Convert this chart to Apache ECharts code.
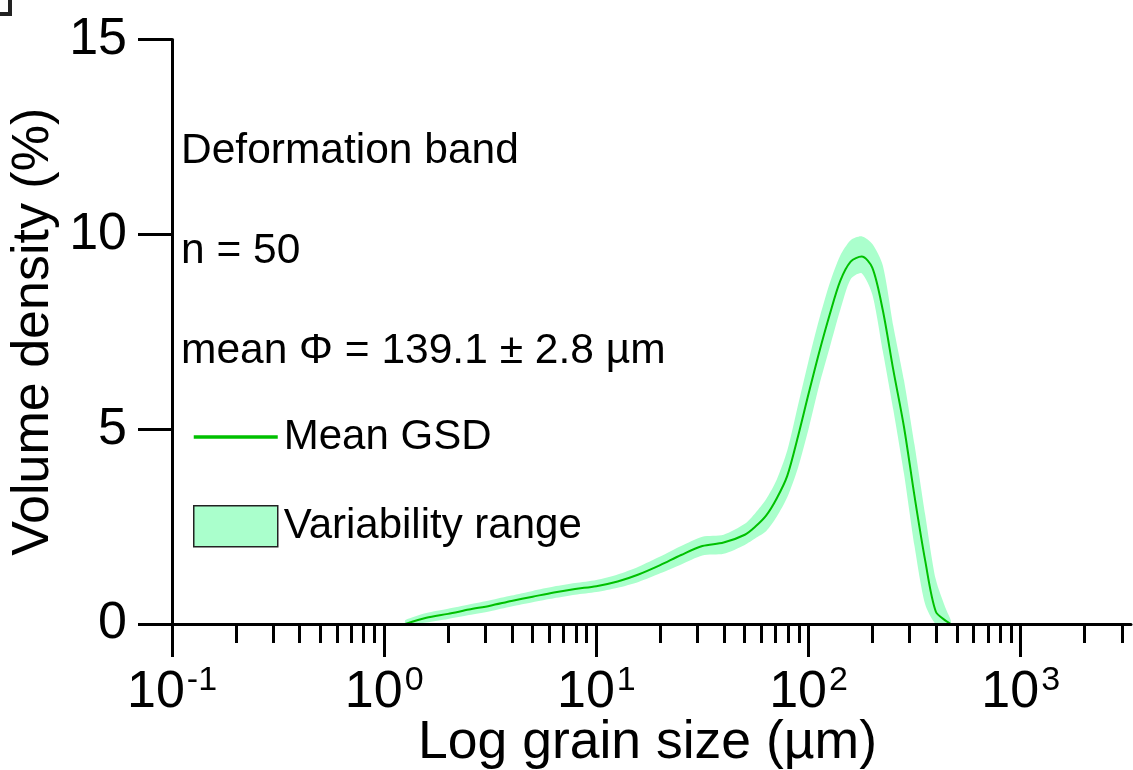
<!DOCTYPE html>
<html>
<head>
<meta charset="utf-8">
<script src="https://cdn.jsdelivr.net/npm/echarts@6/dist/echarts.min.js"></script>
<style>
html,body{margin:0;padding:0;background:#fff;}
#chart{width:1133px;height:770px;}
</style>
</head>
<body>
<div id="chart"></div>
<script>
// Grain sizes (µm)
var sizes = [1.26,1.58,2.00,2.51,3.16,3.98,5.01,6.31,7.94,10.0,12.6,15.8,20.0,25.1,31.6,39.8,50.1,56.2,63.1,70.8,79.4,89.1,100,112,126,141,158,178,200,224,251,282,316,355,398,447,468];
// Mean GSD (volume density %)
var meanGSD = [0.00,0.16,0.26,0.37,0.47,0.59,0.70,0.81,0.90,0.97,1.09,1.27,1.51,1.77,2.00,2.09,2.29,2.50,2.78,3.22,3.80,4.80,5.90,6.95,7.95,8.80,9.30,9.43,9.14,8.05,6.52,5.05,3.28,1.62,0.32,0.07,0.00];
// Variability range: lower and upper envelopes
var lowerGSD = [0.00,0.04,0.13,0.23,0.33,0.45,0.56,0.66,0.75,0.82,0.93,1.08,1.30,1.53,1.76,1.80,2.03,2.20,2.38,2.75,3.25,4.00,5.00,6.10,7.10,8.05,8.85,9.00,8.45,7.00,5.50,3.85,2.00,0.50,0.00,0.00,0.00];
var upperGSD = [0.10,0.28,0.39,0.50,0.61,0.73,0.85,0.96,1.05,1.13,1.27,1.47,1.73,2.00,2.24,2.29,2.57,2.85,3.20,3.70,4.45,5.60,6.75,7.80,8.75,9.45,9.85,9.95,9.75,9.20,7.65,6.25,4.60,2.80,1.15,0.35,0.10];
// Axis ticks
var majorExps = [-1,0,1,2,3];
var minorMultipliers = [2,3,4,5,6,7,8,9];

var minorLogs = [];
majorExps.forEach(function(e){
  minorMultipliers.forEach(function(m){
    var v = Math.log10(m) + e;
    if (v <= 3.52) minorLogs.push(v);
  });
});

var FONT = 'Liberation Sans, Arial, sans-serif';
var lx = sizes.map(function(s){ return Math.log10(s); });
var meanData = lx.map(function(x,i){ return [x, meanGSD[i]]; });

var chart = echarts.init(document.getElementById('chart'));
chart.setOption({
  animation: false,
  backgroundColor: '#fff',
  textStyle: {fontFamily: FONT},
  title: {
    text: 'Deformation band\n\nn = 50\n\nmean Φ = 139.1 ± 2.8 µm',
    left: 176, top: 121,
    textStyle: {fontFamily: FONT, fontSize: 42.5, fontWeight: 'normal', color: '#000', lineHeight: 50}
  },
  legend: {
    orient: 'vertical',
    left: 188, top: 411,
    itemWidth: 84, itemHeight: 41, itemGap: 47,
    textStyle: {fontFamily: FONT, fontSize: 42, color: '#000', padding: [0,0,0,1]},
    data: [
      {name: 'Mean GSD', icon: 'path://M0,0h84v3.5h-84z', itemStyle: {color: '#00c000', borderWidth: 0}},
      {name: 'Variability range', icon: 'rect', itemStyle: {color: '#aaffcc', borderColor: '#222', borderWidth: 1.5}}
    ]
  },
  graphic: [{
    type: 'polyline', shape: {points: [[0,14],[10,14],[10,0]]},
    style: {stroke: '#222', lineWidth: 4, fill: null}
  }],
  grid: {left: 172, top: 39.5, right: 2, bottom: 146, containLabel: false, outerBoundsMode: 'none'},
  xAxis: [{
    type: 'value', min: -1, max: 3.52, interval: 1, position: 'bottom', z: 5,
    name: 'Log grain size (µm)', nameLocation: 'middle', nameGap: 92, nameMoveOverlap: false,
    nameTextStyle: {fontFamily: FONT, fontSize: 53.5, color: '#000', padding: [0,8,0,0]},
    axisLine: {onZero: false, lineStyle: {color: '#000', width: 3}},
    axisTick: {customValues: majorExps, length: 33, lineStyle: {color: '#000', width: 3}},
    splitLine: {show: false},
    axisLabel: {
      customValues: majorExps, margin: 43, color: '#000',
      formatter: function(v){ return '{b|10}{s|' + Math.round(v) + '}'; },
      rich: {
        b: {fontFamily: FONT, fontSize: 52, lineHeight: 52, color: '#000'},
        s: {fontFamily: FONT, fontSize: 34, lineHeight: 28, padding: [0,0,24,2], color: '#000'}
      }
    }
  }, {
    type: 'value', min: -1, max: 3.52, position: 'bottom', z: 5,
    axisLine: {show: false, onZero: false},
    axisTick: {customValues: minorLogs, length: 19, lineStyle: {color: '#000', width: 3}},
    axisLabel: {show: false},
    splitLine: {show: false}
  }],
  yAxis: {
    type: 'value', min: 0, max: 15, interval: 5, z: 5,
    name: 'Volume density (%)', nameLocation: 'middle', nameGap: 112, nameMoveOverlap: false,
    nameTextStyle: {fontFamily: FONT, fontSize: 52, color: '#000'},
    axisLine: {show: true, onZero: false, lineStyle: {color: '#000', width: 3}},
    axisTick: {show: true, length: 34, lineStyle: {color: '#000', width: 3}},
    axisLabel: {margin: 45, fontFamily: FONT, fontSize: 52, color: '#000'},
    splitLine: {show: false}
  },
  series: [{
    name: 'Variability range', type: 'custom', xAxisIndex: 0, yAxisIndex: 0,
    data: [[lx[0], 0]],
    itemStyle: {color: '#aaffcc'},
    z: 1, silent: true,
    renderItem: function(params, api){
      var pts = [];
      for (var i = 0; i < lx.length; i++) pts.push(api.coord([lx[i], upperGSD[i]]));
      for (var j = lx.length - 1; j >= 0; j--) pts.push(api.coord([lx[j], lowerGSD[j]]));
      return {type: 'polygon', shape: {points: pts, smooth: 0.25}, style: {fill: '#aaffcc', stroke: null}};
    }
  }, {
    name: 'Mean GSD', type: 'line', data: meanData,
    smooth: 0.3, symbol: 'none', itemStyle: {color: '#00c000'},
    lineStyle: {color: '#00c000', width: 2}, z: 3
  }]
});
</script>
</body>
</html>
